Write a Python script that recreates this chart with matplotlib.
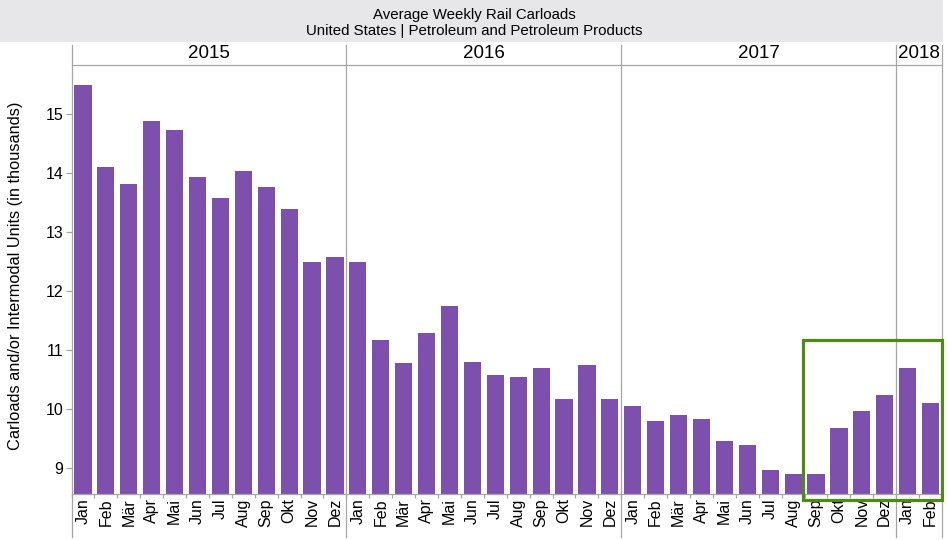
import matplotlib.pyplot as plt
import matplotlib.transforms as mtransforms
from matplotlib.patches import Rectangle
from matplotlib.lines import Line2D
import numpy as np

plt.rcParams['font.family'] = ['Liberation Sans', 'DejaVu Sans']

# data
month_names = ['Jan', 'Feb', 'Mär', 'Apr', 'Mai', 'Jun', 'Jul', 'Aug', 'Sep', 'Okt', 'Nov', 'Dez']
years = ['2015', '2016', '2017', '2018']
values_2015 = [15.50, 14.11, 13.82, 14.89, 14.73, 13.94, 13.58, 14.04, 13.77, 13.40, 12.50, 12.58]
values_2016 = [12.50, 11.17, 10.79, 11.29, 11.75, 10.80, 10.58, 10.55, 10.70, 10.18, 10.75, 10.18]
values_2017 = [10.06, 9.81, 9.91, 9.83, 9.47, 9.40, 8.98, 8.91, 8.91, 9.69, 9.98, 10.25]
values_2018 = [10.70, 10.11]
yticks = [9, 10, 11, 12, 13, 14, 15]
highlight_from = ('2017', 'Sep')

series = [values_2015, values_2016, values_2017, values_2018]
values = [v for s in series for v in s]
labels = [month_names[i] for s in series for i in range(len(s))]
year_sizes = [len(s) for s in series]
x = np.arange(len(values))

BAR = '#7e50ae'
GRID = '#a6a6a6'

fig = plt.figure(figsize=(9.47, 5.4), dpi=100)
W, H = 947, 540
ax = fig.add_axes([71.5 / W, (H - 494) / H, (942 - 71.5) / W, (494 - 65) / H])

ax.bar(x, values, width=0.75, color=BAR, zorder=2)
ax.set_xlim(-0.5, len(values) - 0.5)
ax.set_ylim(8.567, 15.835)

for s in ax.spines.values():
    s.set_visible(False)

ax.set_yticks(yticks)
ax.set_yticklabels([str(t) for t in yticks], fontsize=11.5)
ax.tick_params(axis='y', length=4, width=0.9, color=GRID, pad=2)

ax.set_xticks(x)
ax.set_xticklabels(labels, rotation=90, fontsize=11.5)
ax.tick_params(axis='x', which='major', length=0, pad=3)
ax.set_xticks(np.arange(len(values) + 1) - 0.5, minor=True)
ax.tick_params(axis='x', which='minor', length=3, width=0.9, color=GRID)

ax.set_ylabel('Carloads and/or Intermodal Units (in thousands)', fontsize=11.8)
ax.yaxis.set_label_coords(23 / W, 0.49, transform=fig.transFigure)

# frame lines: top/bottom of plot, year separators running through the header
bt = mtransforms.blended_transform_factory(ax.transData, fig.transFigure)
x0, x1 = -0.5, len(values) - 0.5
for yy in [(H - 65) / H, (H - 494) / H]:
    ax.add_line(Line2D([x0, x1], [yy, yy], transform=bt, color=GRID, lw=0.9, clip_on=False))

bounds = np.concatenate([[0], np.cumsum(year_sizes)]) - 0.5
for b in bounds:
    ax.add_line(Line2D([b, b], [(H - 45) / H, (H - 537) / H], transform=bt,
                       color=GRID, lw=0.9, clip_on=False))

for yr, a, b in zip(years, bounds[:-1], bounds[1:]):
    ax.text((a + b) / 2, (H - 53) / H, yr, transform=bt, ha='center', va='center',
            fontsize=13.5)

# title band
fig.add_artist(Rectangle((0, (H - 42) / H), 943 / W, 42 / H, transform=fig.transFigure,
                         facecolor='#e7e7ea', edgecolor='none'))
fig.text(474 / W, (H - 15) / H, 'Average Weekly Rail Carloads', ha='center', va='center',
         fontsize=10.8)
fig.text(474 / W, (H - 31) / H, 'United States | Petroleum and Petroleum Products',
         ha='center', va='center', fontsize=10.8)

# highlight box around the recent rise
start = years.index(highlight_from[0])
hi = sum(year_sizes[:start]) + month_names.index(highlight_from[1])
box_bottom = 8.47
box_top = 11.17
ax.add_patch(Rectangle((hi - 0.55, box_bottom), (x1 + 0.02) - (hi - 0.55), box_top - box_bottom,
                       fill=False, edgecolor='#4e8a14', lw=2.3, clip_on=False, zorder=5))

fig.savefig('out.png', dpi=100)
